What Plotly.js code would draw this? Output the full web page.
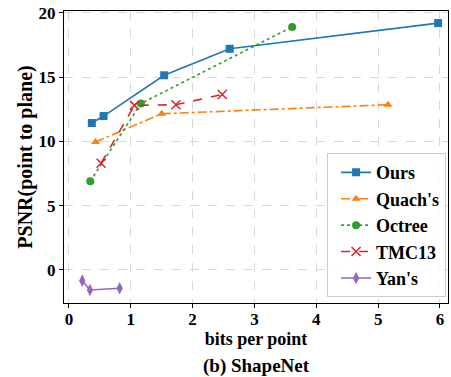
<!DOCTYPE html>
<html><head><meta charset="utf-8">
<script src="https://cdn.plot.ly/plotly-3.0.1.min.js"></script>
<style>body{margin:0;background:#fff}#c{width:451px;height:377px}</style>
</head><body><div id="c"></div>
<script>
const oursX = [0.37, 0.56, 1.54, 2.6, 5.97];
const oursY = [11.43, 11.97, 15.14, 17.2, 19.2];
const quachX = [0.43, 1.5, 5.16];
const quachY = [9.95, 12.15, 12.85];
const octreeX = [0.345, 1.165, 3.61];
const octreeY = [6.9, 12.95, 18.9];
const tmcX = [0.52, 1.06, 1.73, 2.48];
const tmcY = [8.3, 12.8, 12.85, 13.65];
const yanX = [0.215, 0.34, 0.82];
const yanY = [-0.83, -1.56, -1.42];
const seriesNames = ["Ours", "Quach's", "Octree", "TMC13", "Yan's"];
const xTicks = [0,1,2,3,4,5,6];
const yTicks = [0,5,10,15,20];

const colors = ["#1f77b4","#ff7f0e","#2ca02c","#d62728","#9467bd"];
const dashes = ["solid","dashdot","dot","dash","solid"];
const symbols = ["square","triangle-up","circle","x-thin-open","diamond-tall"];
const sizes = [8,8,8,9,9];
const xs = [oursX, quachX, octreeX, tmcX, yanX];
const ys = [oursY, quachY, octreeY, tmcY, yanY];

const traces = seriesNames.map((n,i)=>({
  x: xs[i], y: ys[i], name: '<b>'+n+'</b>', type: 'scatter', mode: 'lines+markers',
  line: {color: colors[i], width: 1.6, dash: dashes[i]},
  marker: {color: colors[i], symbol: symbols[i], size: sizes[i], line: {color: colors[i], width: i===3?1.5:0}}
}));

const fam = 'Liberation Serif, Times New Roman, serif';
const F = s => ({family: fam, size: s, color: '#000'});
const layout = {
  width: 451, height: 377,
  margin: {l: 64, r: 3, t: 11, b: 74},
  paper_bgcolor: '#fff', plot_bgcolor: '#fff',
  font: F(15),
  showlegend: true,
  xaxis: {
    range: [-0.08, 6.13], tickvals: xTicks, ticktext: xTicks.map(v=>'<b>'+v+'</b>'),
    showgrid: true, gridcolor: '#d8d8d8', griddash: 'dash', gridwidth: 1,
    zeroline: false, showline: true, linecolor: '#000', linewidth: 1, mirror: true,
    ticks: 'outside', ticklen: 4, tickcolor: '#000', ticklabelstandoff: -3,
    tickfont: F(17),
    title: {text: '<b>bits per point</b>', font: F(18), standoff: 2}
  },
  yaxis: {
    range: [-2.57, 20.14], tickvals: yTicks, ticktext: yTicks.map(v=>'<b>'+v+'</b>'),
    showgrid: true, gridcolor: '#d8d8d8', griddash: 'dash', gridwidth: 1,
    zeroline: false, showline: true, linecolor: '#000', linewidth: 1, mirror: true,
    ticks: 'outside', ticklen: 4, tickcolor: '#000',
    tickfont: F(17),
    title: {text: '<b>PSNR(point to plane)</b>', font: F(20), standoff: 0}
  },
  legend: {
    x: 0.995, y: 0.02, xanchor: 'right', yanchor: 'bottom',
    bgcolor: 'rgba(255,255,255,0.85)', bordercolor: '#cccccc', borderwidth: 1,
    font: F(18), itemwidth: 30, tracegroupgap: 0, indentation: 8
  },
  annotations: [{
    text: '<b>(b) ShapeNet</b>', xref: 'paper', yref: 'paper', x: 0.5, y: -0.216,
    xanchor: 'center', yanchor: 'middle', showarrow: false,
    font: F(19)
  }]
};
Plotly.newPlot('c', traces, layout, {displayModeBar: false, staticPlot: true});
</script></body></html>
